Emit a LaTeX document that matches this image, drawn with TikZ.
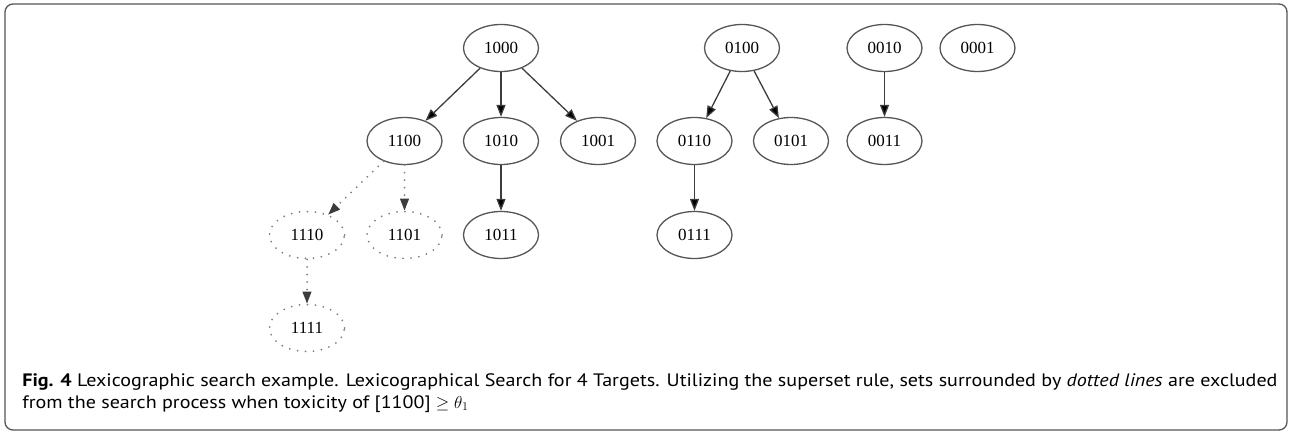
\documentclass[tikz,border=0pt]{standalone}
\usepackage{fontspec}
\setmainfont{Liberation Serif}
\newfontfamily\capfont[FakeStretch=1.115]{PT Sans}
\usetikzlibrary{arrows.meta,shapes.geometric}
\definecolor{rimgray}{HTML}{555555}
\definecolor{edgegray}{HTML}{3C3C3C}

\begin{document}
\begin{tikzpicture}[x=1pt,y=-1pt,->,>={Triangle[length=12pt,width=9pt]},
  line width=1.3pt,
  set node/.style={ellipse,draw=rimgray,minimum width=75pt,minimum height=47pt,
    inner sep=0pt,font=\fontsize{17}{20}\selectfont},
  cut node/.style={set node,draw=gray,line width=2pt,line cap=round,dash pattern=on 0pt off 8pt},
  cut edge/.style={draw=gray,line width=2pt,line cap=round,dash pattern=on 0pt off 7.5pt,
    -{Triangle[length=12pt,width=9pt,color=edgegray,line width=1.3pt]}}]

  \useasboundingbox (0,0) rectangle (1291,431);
  \draw[-,draw=rimgray,rounded corners=8pt] (5,4) rectangle (1287,430);

  % first row
  \node[set node] (s1000) at (501,48) {1000};
  \node[set node] (s0100) at (742,48) {0100};
  \node[set node] (s0010) at (884.5,48) {0010};
  \node[set node] (s0001) at (977.5,48) {0001};

  % second row
  \node[set node] (s1100) at (404.5,141) {1100};
  \node[set node] (s1010) at (501,141) {1010};
  \node[set node] (s1001) at (598,141) {1001};
  \node[set node] (s0110) at (694.5,141) {0110};
  \node[set node] (s0101) at (791,141) {0101};
  \node[set node] (s0011) at (884.5,141) {0011};

  % third row
  \node[cut node] (s1110) at (307,235) {1110};
  \node[cut node] (s1101) at (404.5,235) {1101};
  \node[set node] (s1011) at (501,235) {1011};
  \node[set node] (s0111) at (694.5,235) {0111};

  % fourth row
  \node[cut node] (s1111) at (307,328) {1111};

  \path[draw=edgegray]
    (s1000) edge (s1100)
    (s1000) edge (s1010)
    (s1000) edge (s1001)
    (s0100) edge (s0110)
    (s0100) edge (s0101)
    (s0010) edge (s0011)
    (s1010) edge (s1011)
    (s0110) edge (s0111);

  \path
    (s1100) edge[cut edge] (s1110)
    (s1100) edge[cut edge] (s1101)
    (s1110) edge[cut edge] (s1111);

  \node[anchor=base west,inner sep=0pt,font=\capfont\fontsize{18}{22}\selectfont] (cap1) at (21.7,386)
    {\textbf{Fig. 4} Lexicographic search example. Lexicographical Search for 4 Targets. Utilizing the superset rule, sets surrounded by \textit{dotted lines} are excluded};
  \node[anchor=base west,inner sep=0pt,font=\capfont\fontsize{18}{22}\selectfont] (cap2) at (21.7,408)
    {from the search process when toxicity of [1100] $\geq \theta_1$};
\end{tikzpicture}
\end{document}
